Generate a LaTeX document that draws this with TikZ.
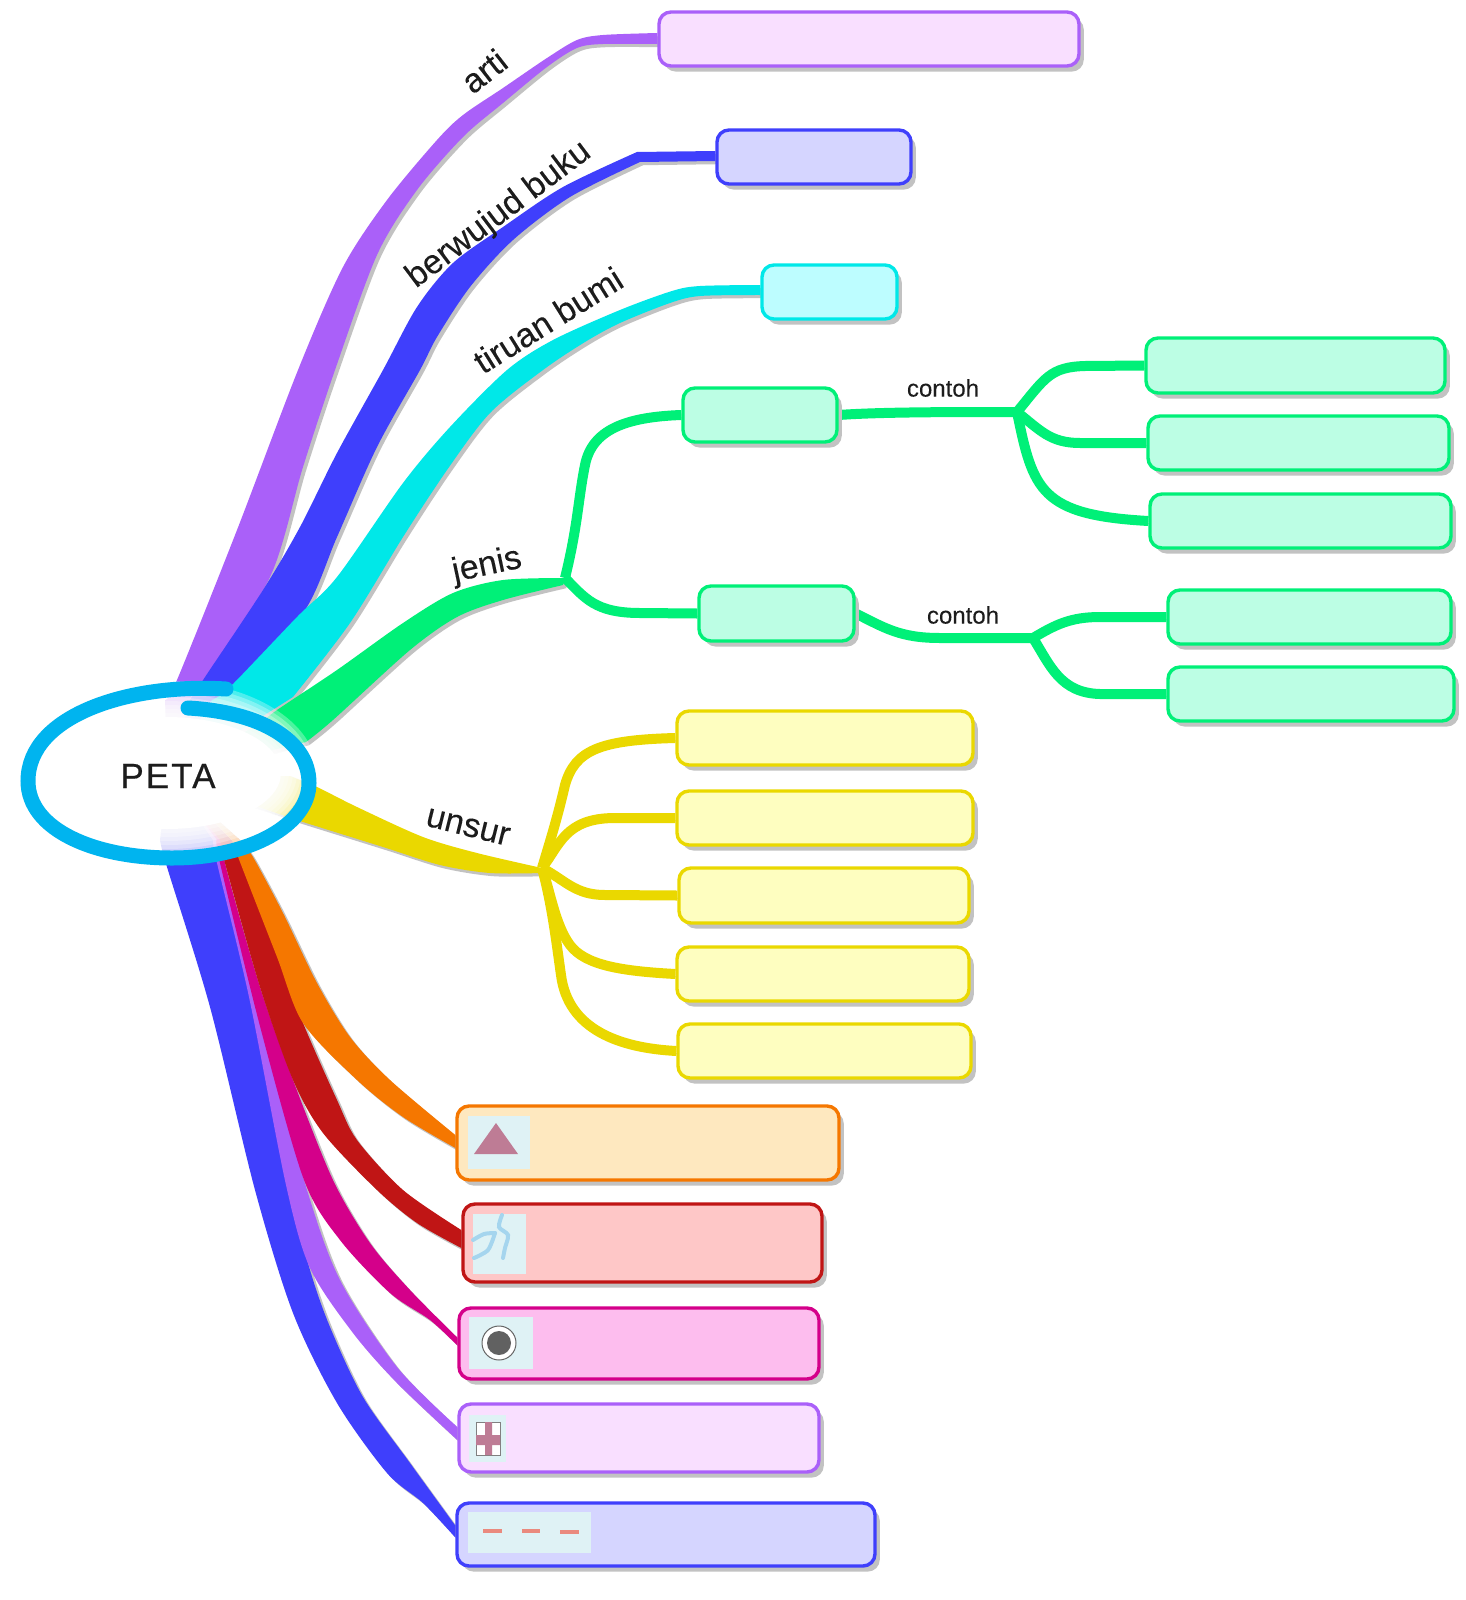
\documentclass[tikz,border=0pt]{standalone}
\usepackage{fontspec}
\usepackage{tikz}
\usepackage{xcolor}
\usetikzlibrary{backgrounds}
\usetikzlibrary{shadows}
\setmainfont{Liberation Sans}[FakeBold=0.15]
\newfontfamily\petafont{Liberation Sans}[LetterSpace=6, FakeBold=0.5]

\definecolor{shadowgray}{HTML}{C2C2C2}
\definecolor{inkblack}{HTML}{1C1C1C}
\definecolor{ringblue}{HTML}{00B4EF}
\definecolor{purpleline}{HTML}{AA60F9}
\definecolor{purplefill}{HTML}{F9DFFF}
\definecolor{blueline}{HTML}{3F3FFC}
\definecolor{bluefill}{HTML}{D5D5FF}
\definecolor{cyanline}{HTML}{00E8E8}
\definecolor{cyanfill}{HTML}{BDFDFF}
\definecolor{greenline}{HTML}{00F078}
\definecolor{greenfill}{HTML}{BCFEE4}
\definecolor{yellowline}{HTML}{EAD800}
\definecolor{yellowfill}{HTML}{FEFEC0}
\definecolor{orangeline}{HTML}{F57700}
\definecolor{orangefill}{HTML}{FEE8BF}
\definecolor{redline}{HTML}{C01515}
\definecolor{redfill}{HTML}{FEC7C7}
\definecolor{pinkline}{HTML}{D4008A}
\definecolor{pinkfill}{HTML}{FDBDEE}
\definecolor{thumbfill}{HTML}{DFF2F5}
\definecolor{thumbmark}{HTML}{BE7C95}
\definecolor{riverblue}{HTML}{A5D5EE}
\definecolor{dashred}{HTML}{EA8A7E}

\tikzset{
    trunk/.style={fill=#1, preaction={fill=shadowgray, transform canvas={shift={(1.6pt,-1.6pt)}}}},
    twig/.style={draw=#1, line width=5pt, preaction={draw=shadowgray, transform canvas={shift={(1.4pt,-1.4pt)}}}},
    mapbox/.style={draw=#1line, fill=#1fill, line width=1.7pt, rounded corners=6pt, inner sep=0pt,
        drop shadow={shadow xshift=2.4pt, shadow yshift=-2.8pt, fill=shadowgray, draw=none, opacity=1}},
    trunklabel/.style={font=\fontsize{17pt}{20pt}\selectfont, text=inkblack},
    twiglabel/.style={font=\fontsize{12pt}{14pt}\selectfont, text=inkblack},
    thumb/.style={fill=thumbfill, draw=none}
}
% box from its left, top, right and bottom edges
\newcommand{\placebox}[6]{\node[mapbox=#1, minimum width={(#5-#3)*0.5pt}, minimum height={(#6-#4)*0.5pt}] (#2) at ({(#3+#5)/2},{(#4+#6)/2}) {};}

\begin{document}
\begin{tikzpicture}[x=0.5pt, y=-0.5pt]
    \useasboundingbox (0,0) rectangle (1466,1600);

    % Central node and the forks
    \node[font=\fontsize{17.5pt}{20pt}\petafont, text=inkblack] (peta) at (168,776) {PETA};
    \coordinate (jenisfork) at (565,578);
    \coordinate (unsurfork) at (542,868);
    \coordinate (contohforka) at (1017,412);
    \coordinate (contohforkb) at (1033,638);

    % Boxes
    \placebox{purple}{artibox}{659}{12}{1079}{66}
    \placebox{blue}{bukubox}{717}{130}{911}{184}
    \placebox{cyan}{bumibox}{762}{265}{897}{319}
    \placebox{green}{jenisboxa}{683}{388}{837}{442}
    \placebox{green}{jenisboxb}{699}{586}{854}{641}
    \placebox{green}{contohboxa}{1146}{338}{1445}{393}
    \placebox{green}{contohboxb}{1148}{416}{1449}{470}
    \placebox{green}{contohboxc}{1150}{494}{1451}{548}
    \placebox{green}{contohboxd}{1168}{590}{1451}{644}
    \placebox{green}{contohboxe}{1168}{667}{1454}{721}
    \placebox{yellow}{unsurboxa}{677}{711}{973}{765}
    \placebox{yellow}{unsurboxb}{677}{791}{973}{845}
    \placebox{yellow}{unsurboxc}{679}{868}{969}{923}
    \placebox{yellow}{unsurboxd}{677}{947}{969}{1001}
    \placebox{yellow}{unsurboxe}{678}{1024}{971}{1078}
    \placebox{orange}{gunungbox}{457}{1106}{839}{1180}
    \placebox{red}{sungaibox}{463}{1204}{822}{1282}
    \placebox{pink}{kotabox}{459}{1308}{819}{1379}
    \placebox{purple}{rumahbox}{459}{1404}{819}{1472}
    \placebox{blue}{batasbox}{457}{1503}{875}{1566}

    \begin{scope}[on background layer]
    % Upper trunks
    \fill[trunk=purpleline] (peta) -- plot[smooth] coordinates {(165,700) (177,680) (237,530) (298,370) (343,267) (387,200) (437,140) (463,115) (503,88) (547,58) (577,40) (603,35) ([yshift=3pt]artibox.west)}
        -- plot[smooth] coordinates {([yshift=-2.5pt]artibox.west) (603,44) (577,48) (547,67) (503,103) (463,137) (417,190) (377,255) (335,370) (303,467) (270,577) (203,680)} -- cycle;
    \fill[trunk=blueline] (peta) -- plot[smooth] coordinates {(190,700) (203,680) (263,590) (300,527) (337,453) (383,370) (417,307) (453,263) (503,227) (563,187) (637,152)} -- ([yshift=3pt]bukubox.west)
        -- ([yshift=-2pt]bukubox.west) -- plot[smooth] coordinates {(640,162) (570,197) (513,240) (470,287) (437,337) (420,370) (377,447) (337,537) (303,613) (230,687)} -- cycle;
    \fill[trunk=cyanline] (peta) -- plot[smooth] coordinates {(212,700) (230,687) (297,617) (337,577) (403,483) (450,427) (507,370) (553,340) (620,310) (672,291) (700,286) ([yshift=3.5pt]bumibox.west)}
        -- plot[smooth] coordinates {([yshift=-1.5pt]bumibox.west) (700,296) (670,303) (620,323) (585,342) (543,370) (490,413) (447,470) (403,537) (350,623) (293,697)} -- cycle;
    \fill[trunk=greenline] (peta) -- plot[smooth] coordinates {(262,722) (277,710) (337,670) (403,623) (453,593) (503,580) (jenisfork)}
        -- plot[smooth] coordinates {(563,585) (503,600) (457,617) (410,650) (333,720) (306,742)} -- cycle;
    \fill[trunk=yellowline] (peta) -- plot[smooth] coordinates {(290,776) (317,787) (357,807) (423,837) (477,853) (unsurfork)}
        -- plot[smooth] coordinates {(542,873) (490,873) (440,865) (383,847) (303,822) (285,816)} -- cycle;

    % Lower trunks
    \fill[trunk=blueline] (peta) -- plot[smooth] coordinates {(218,840) (218,863) (250,997) (288,1185) (310,1270) (330,1327) (363,1397) (410,1463) ([yshift=4.5pt]batasbox.west)}
        -- plot[smooth] coordinates {([yshift=-1.5pt]batasbox.west) (423,1503) (387,1473) (337,1403) (293,1313) (255,1190) (210,1007) (167,867) (160,840)} -- cycle;
    \fill[trunk=purpleline] (peta) -- plot[smooth] coordinates {(221,840) (221,863) (262,1030) (307,1190) (340,1280) (397,1367) ([yshift=5.5pt]rumahbox.west)}
        -- plot[smooth] coordinates {([yshift=-1pt]rumahbox.west) (397,1383) (353,1333) (310,1268) (286,1185) (249,997) (217,863) (213,840)} -- cycle;
    \fill[trunk=pinkline] (peta) -- plot[smooth] coordinates {(225,840) (225,863) (260,987) (293,1080) (333,1180) (370,1243) (410,1290) ([yshift=3pt]kotabox.west)}
        -- plot[smooth] coordinates {([yshift=-1pt]kotabox.west) (430,1320) (390,1293) (340,1240) (304,1180) (261,1030) (220,863) (217,840)} -- cycle;
    \fill[trunk=redline] (peta) -- plot[smooth] coordinates {(240,840) (240,860) (277,953) (303,1023) (337,1100) (357,1140) (403,1190) ([yshift=6.5pt]sungaibox.west)}
        -- plot[smooth] coordinates {([yshift=-2.5pt]sungaibox.west) (417,1223) (377,1190) (323,1133) (293,1080) (260,987) (225,863) (220,840)} -- cycle;
    \fill[trunk=orangeline] (peta) -- plot[smooth] coordinates {(240,840) (253,857) (283,913) (317,983) (350,1037) (390,1080) ([yshift=4pt]gunungbox.west)}
        -- plot[smooth] coordinates {([yshift=-2.5pt]gunungbox.west) (403,1117) (357,1080) (303,1023) (277,957) (240,862) (232,840)} -- cycle;

    % Thin green twigs
    \draw[twig=greenline] (jenisfork) .. controls (578,525) and (578,500) .. (585,465) .. controls (592,430) and (625,417) .. (jenisboxa.west);
    \draw[twig=greenline] (jenisfork) .. controls (585,598) and (595,613) .. (640,613) -- (jenisboxb.west);
    \draw[twig=greenline] (jenisboxa.east) .. controls (880,412) and (950,412) .. (contohforka);
    \draw[twig=greenline] (contohforka) .. controls (1045,378) and (1050,367) .. (1085,366) -- (contohboxa.west);
    \draw[twig=greenline] (contohforka) .. controls (1040,430) and (1050,443) .. (1080,443) -- (contohboxb.west);
    \draw[twig=greenline] (contohforka) .. controls (1033,490) and (1040,515) .. (contohboxc.west);
    \draw[twig=greenline] (jenisboxb.east) .. controls (885,628) and (900,638) .. (940,638) -- (contohforkb);
    \draw[twig=greenline] (contohforkb) .. controls (1055,625) and (1070,617) .. (1100,617) -- (contohboxd.west);
    \draw[twig=greenline] (contohforkb) .. controls (1050,665) and (1060,693) .. (1100,694) -- (contohboxe.west);

    % Thin yellow twigs
    \draw[twig=yellowline] (unsurfork) .. controls (552,835) and (558,815) .. (565,785) .. controls (575,750) and (600,740) .. (unsurboxa.west);
    \draw[twig=yellowline] (unsurfork) .. controls (560,845) and (565,818) .. (615,818) -- (unsurboxb.west);
    \draw[twig=yellowline] (unsurfork) .. controls (565,880) and (575,895) .. (605,895) -- (unsurboxc.west);
    \draw[twig=yellowline] (unsurfork) .. controls (550,890) and (555,925) .. (570,945) .. controls (585,965) and (620,971) .. (unsurboxd.west);
    \draw[twig=yellowline] (unsurfork) .. controls (552,905) and (556,940) .. (561,975) .. controls (568,1030) and (620,1048) .. (unsurboxe.west);

    % Branches fading away under the central node
    \foreach \d in {0,4,...,32}
        \fill[white, opacity=0.3] (167,773) ellipse ({(150-\d)*0.5pt} and {(92-\d)*0.5pt});
    \fill[white] (167,773) ellipse (57pt and 28pt);
    \draw[ringblue, line width=7.5pt, line cap=round] (226,689) .. controls (130,683) and (28,715) .. (28,781) .. controls (28,830) and (95,858) .. (172,858) .. controls (250,858) and (309,825) .. (309,783) .. controls (309,740) and (260,712) .. (188,708);
    \end{scope}

    % Little map symbols
    \fill[thumb] (468,1116) rectangle (530,1169);
    \fill[thumbmark] (496,1123) -- (518,1154) -- (474,1154) -- cycle;

    \fill[thumb] (473,1214) rectangle (526,1274);
    \draw[riverblue, line width=2pt, line cap=round] plot[smooth] coordinates {(502,1215) (499,1227) (508,1235) (505,1248) (503,1258)};
    \draw[riverblue, line width=2pt, line cap=round] plot[smooth] coordinates {(473,1240) (484,1234) (495,1233)};
    \draw[riverblue, line width=2pt, line cap=round] plot[smooth] coordinates {(495,1233) (488,1250) (474,1258)};

    \fill[thumb] (469,1317) rectangle (533,1369);
    \draw[gray!80!black, line width=0.5pt, fill=white] (499,1343) circle (17);
    \fill[black!62] (499,1343) circle (12);

    \fill[thumb] (469,1415) rectangle (506,1462);
    \draw[gray, line width=0.5pt, fill=white] (476,1422) rectangle (500,1455);
    \fill[thumbmark] (485,1422) rectangle (492,1455) (476,1435) rectangle (500,1445);

    \fill[thumb] (468,1512) rectangle (591,1553);
    \draw[dashred, line width=1.7pt] (483,1531) -- (502,1531) (522,1531) -- (540,1531) (560,1532) -- (579,1532);

    % Labels on the branches
    \node[trunklabel, rotate=38] (artilabel) at (484,71) {arti};
    \node[trunklabel, rotate=37] (bukulabel) at (499,215) {berwujud buku};
    \node[trunklabel, rotate=32] (bumilabel) at (548,320) {tiruan bumi};
    \node[trunklabel, rotate=12] (jenislabel) at (487,566) {jenis};
    \node[trunklabel, rotate=-14] (unsurlabel) at (468,827) {unsur};
    \node[twiglabel] (contohlabela) at (943,388) {contoh};
    \node[twiglabel] (contohlabelb) at (963,615) {contoh};
\end{tikzpicture}
\end{document}
